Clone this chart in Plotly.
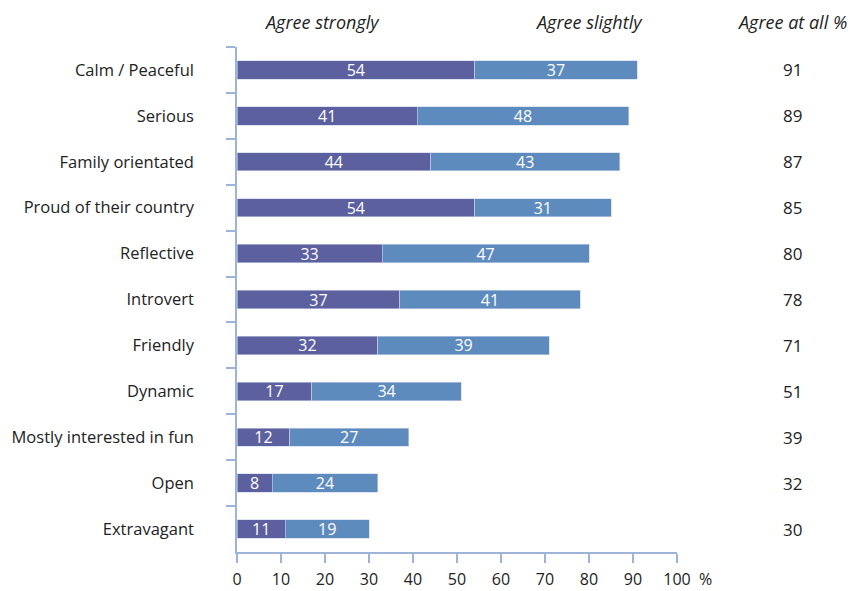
import plotly.graph_objects as go

categories = ["Calm / Peaceful", "Serious", "Family orientated", "Proud of their country",
              "Reflective", "Introvert", "Friendly", "Dynamic",
              "Mostly interested in fun", "Open", "Extravagant"]
agree_strongly = [54, 41, 44, 54, 33, 37, 32, 17, 12, 8, 11]
agree_slightly = [37, 48, 43, 31, 47, 41, 39, 34, 27, 24, 19]
agree_total = [91, 89, 87, 85, 80, 78, 71, 51, 39, 32, 30]
x_ticks = [0, 10, 20, 30, 40, 50, 60, 70, 80, 90, 100]

FONT = "Open Sans"
AXIS_COLOR = "#9db4d8"
DARK = "#5c609f"
LIGHT = "#5e8bbd"

fig = go.Figure()
for vals, color, name in [(agree_strongly, DARK, "Agree strongly"), (agree_slightly, LIGHT, "Agree slightly")]:
    fig.add_trace(go.Bar(
        y=categories, x=vals, orientation="h", name=name,
        marker=dict(color=color, line=dict(color="#c9d3ea", width=0.6)),
        text=vals, textposition="inside", insidetextanchor="middle", textangle=0,
        constraintext="none",
        textfont=dict(color="white", size=16, family=FONT), width=0.4,
    ))

annotations = []
for cat, tot in zip(categories, agree_total):
    annotations.append(dict(x=1.2636, xref="paper", y=cat, yref="y", text=str(tot),
                            showarrow=False, font=dict(size=17, color="#222", family=FONT),
                            xanchor="center"))
for txt, xp in [("Agree strongly", 0.193), ("Agree slightly", 0.80), ("Agree at all %", 1.261)]:
    annotations.append(dict(x=xp, xref="paper", y=1.0495, yref="paper", text=f"<i>{txt}</i>",
                            showarrow=False, font=dict(size=18, color="#222", family=FONT),
                            xanchor="center", yanchor="middle"))
annotations.append(dict(x=1.065, xref="paper", y=-0.053, yref="paper", text="%",
                        showarrow=False, font=dict(size=16, color="#222", family=FONT),
                        xanchor="center", yanchor="middle"))

fig.update_layout(
    barmode="stack", width=850, height=591,
    margin=dict(l=237, r=173, t=47, b=39),
    plot_bgcolor="white", paper_bgcolor="white",
    showlegend=False, annotations=annotations,
    font=dict(family=FONT, size=16, color="#222"),
)
fig.update_xaxes(range=[0, 100], tickvals=x_ticks, showgrid=False, zeroline=False,
                 showline=True, linecolor=AXIS_COLOR, linewidth=1.5,
                 ticks="outside", tickcolor=AXIS_COLOR, ticklen=9, tickwidth=1.5,
                 ticklabelstandoff=3, automargin=False,
                 tickfont=dict(size=16, color="#222"))
fig.update_yaxes(autorange="reversed", showgrid=False, zeroline=False,
                 showline=True, linecolor=AXIS_COLOR, linewidth=1.5,
                 ticks="outside", tickson="boundaries", tickcolor=AXIS_COLOR,
                 ticklen=9, tickwidth=1.5, ticklabelstandoff=38, automargin=False,
                 tickfont=dict(size=16.5, color="#222"))

fig.write_html("out.html")
